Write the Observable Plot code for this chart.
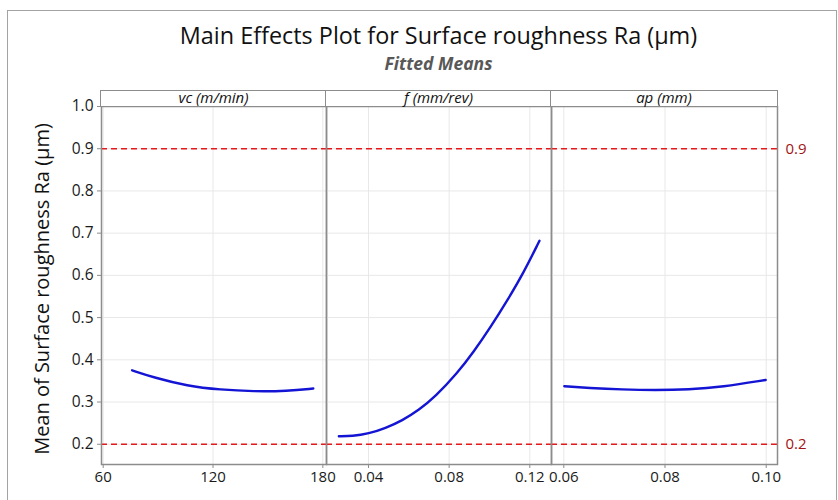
<!DOCTYPE html>
<html>
<head>
<meta charset="utf-8">
<script src="https://cdn.jsdelivr.net/npm/d3@7"></script>
<script src="https://cdn.jsdelivr.net/npm/@observablehq/plot@0.6"></script>
<style>
  body { margin: 0; background: #fff; }
  #fig { position: relative; width: 838px; height: 500px; overflow: hidden; font-family: "Open Sans", sans-serif; background: #fff; }
  .border { position: absolute; left: 7px; top: 10px; width: 830px; height: 540px; border: 1.5px solid #a3a3a3; box-sizing: border-box; }
  .title { position: absolute; left: 100px; width: 677px; top: 22px; text-align: center; font-size: 23.4px; line-height: 26px; color: #111; }
  .subtitle { position: absolute; left: 100px; width: 677px; top: 54px; text-align: center; font-size: 17.5px; line-height: 18px; font-weight: bold; font-style: italic; color: #585858; }
  .ylab { position: absolute; left: -158px; width: 400px; top: 276px; height: 26px; line-height: 26px; text-align: center; font-size: 20px; color: #111; transform: rotate(-90deg); }
  .strip { position: absolute; top: 90px; height: 17px; border: 1.5px solid #8c8c8c; box-sizing: border-box; text-align: center; font-size: 15px; line-height: 12px; font-style: italic; color: #111; background: #fff; }
  .panel { position: absolute; top: 102px; }
</style>
</head>
<body>
<div id="fig"></div>
<script>
// Fitted means of Ra for each factor
const vcLevels = [75.8, 87.7, 105.9, 124.1, 142.3, 160.5, 174.8];
const vcMeans  = [0.375, 0.358, 0.338, 0.329, 0.325, 0.326, 0.332];

const fLevels = [0.0253, 0.0319, 0.0401, 0.0484, 0.0567, 0.0650, 0.0732, 0.0840, 0.0922, 0.1005, 0.1088, 0.1170, 0.1248];
const fMeans  = [0.219, 0.219, 0.225, 0.238, 0.256, 0.281, 0.313, 0.368, 0.419, 0.477, 0.540, 0.607, 0.682];

const apLevels = [0.0601, 0.0649, 0.0715, 0.0781, 0.0847, 0.0913, 0.0999];
const apMeans  = [0.3373, 0.3333, 0.3295, 0.3278, 0.3295, 0.3357, 0.3522];

// Reference lines and tick values
const refLines = [0.9, 0.2];
const yTicks = [0.2, 0.3, 0.4, 0.5, 0.6, 0.7, 0.8, 0.9, 1.0];
const vcTicks = [60, 120, 180];
const fTicks = [0.04, 0.08, 0.12];
const apTicks = [0.06, 0.08, 0.10];

const factors = ["vc (m/min)", "f (mm/rev)", "ap (mm)"];

const fig = document.getElementById("fig");
fig.insertAdjacentHTML("beforeend", `
  <div class="border"></div>
  <div class="title">Main Effects Plot for Surface roughness Ra (µm)</div>
  <div class="subtitle">Fitted Means</div>
  <div class="ylab">Mean of Surface roughness Ra (µm)</div>
`);

const gridColor = "#e8e8e8";
const frameColor = "#8c8c8c";

function panel({levels, means, domain, ticks, fmt, left, marginLeft, marginRight, areaWidth, yAxis, refLabels}) {
  const data = levels.map((x, i) => ({x, y: means[i]}));
  const marks = [
    Plot.gridY(yTicks, {stroke: gridColor, strokeOpacity: 1}),
    Plot.gridX(ticks, {stroke: gridColor, strokeOpacity: 1}),
    Plot.ruleY(refLines, {stroke: "#e3191b", strokeWidth: 1.6, strokeDasharray: "6,4"}),
    Plot.line(data, {x: "x", y: "y", curve: "basis", stroke: "#1414d4", strokeWidth: 2.4}),
    Plot.frame({stroke: frameColor, strokeWidth: 1.5}),
    Plot.axisX(ticks, {tickSize: 4, tickPadding: 3, tickFormat: fmt, fontSize: 15, label: null, stroke: frameColor, fill: "#1a1a1a"})
  ];
  if (yAxis) {
    marks.push(Plot.axisY(yTicks, {tickSize: 4, tickPadding: 4, tickFormat: d3.format(".1f"), fontSize: 15.5, label: null, stroke: frameColor, fill: "#1a1a1a"}));
  }
  if (refLabels) {
    marks.push(Plot.text(refLines, {y: d => d, text: d => d3.format(".1f")(d), frameAnchor: "right", dx: 8, textAnchor: "start", fill: "#a11414", fontSize: 15}));
  }
  const svg = Plot.plot({
    width: marginLeft + areaWidth + marginRight,
    height: 396,
    marginTop: 4,
    marginBottom: 34,
    marginLeft,
    marginRight,
    style: {fontFamily: "Open Sans, sans-serif", fontSize: "15px", color: "#111", background: "transparent", overflow: "visible"},
    x: {domain, axis: null},
    y: {domain: [0.152, 1.0], axis: yAxis ? undefined : null},
    marks
  });
  svg.classList.add("panel");
  svg.style.left = left + "px";
  fig.appendChild(svg);
}

panel({levels: vcLevels, means: vcMeans, domain: [59.07, 182.0], ticks: vcTicks, fmt: d3.format("d"),
       left: 0, marginLeft: 101, marginRight: 0, areaWidth: 225, yAxis: true});
panel({levels: fLevels, means: fMeans, domain: [0.01917, 0.13076], ticks: fTicks, fmt: d3.format(".2f"),
       left: 326, marginLeft: 0, marginRight: 0, areaWidth: 225});
panel({levels: apLevels, means: apMeans, domain: [0.05757, 0.10223], ticks: apTicks, fmt: d3.format(".2f"),
       left: 551, marginLeft: 0, marginRight: 60, areaWidth: 226, refLabels: true});

// Factor header strips
const strips = [[101, 225], [326, 225], [551, 226]];
strips.forEach(([l, w], i) => {
  const d = document.createElement("div");
  d.className = "strip";
  d.style.left = (l - 0.75) + "px";
  d.style.width = (w + 1.5) + "px";
  d.textContent = factors[i];
  fig.appendChild(d);
});
</script>
</body>
</html>
